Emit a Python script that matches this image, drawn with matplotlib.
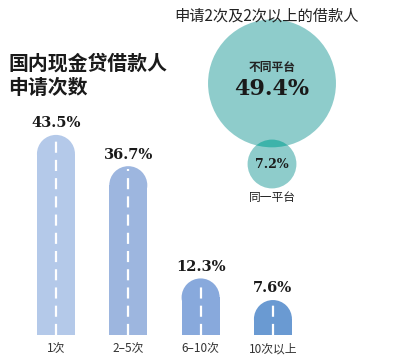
import matplotlib
matplotlib.use("Agg")
import matplotlib.pyplot as plt
from matplotlib.patches import Rectangle, Ellipse, Circle
import numpy as np

plt.rcParams['font.family'] = ['Noto Sans CJK SC', 'DejaVu Sans']

# ---- data ----
categories = ["1次", "2–5次", "6–10次", "10次以上"]
shares = [43.5, 36.7, 12.3, 7.6]
value_labels = ["43.5%", "36.7%", "12.3%", "7.6%"]
bar_colors = ["#b4c9e9", "#9db6df", "#88a9dc", "#6a9ad2"]

circle_labels = ["不同平台", "同一平台"]
circle_values = [49.4, 7.2]
circle_value_labels = ["49.4%", "7.2%"]

title = "国内现金贷借款人\n申请次数"
subtitle = "申请2次及2次以上的借款人"

W, H = 400, 355
fig = plt.figure(figsize=(W / 100, H / 100), dpi=100)
fig.patch.set_facecolor("white")

def px_box(left, top, right, bottom):
    return [left / W, 1 - bottom / H, (right - left) / W, (bottom - top) / H]

# ---- bar axes ----
ax = fig.add_axes(px_box(19.8, 105, 309.1, 335))
ax.set_xlim(-0.5, 3.5)
ax.set_ylim(0, 50)
ax.axis("off")

px_per_x = 289.3 / 4.0
px_per_y = 230 / 50.0
bw = 38 / px_per_x
cap_h = 2 * (19 / px_per_y)
serif = ['DejaVu Serif']

for i, (v, c) in enumerate(zip(shares, bar_colors)):
    body = v - cap_h / 2
    ax.add_patch(Rectangle((i - bw / 2, 0), bw, body, facecolor=c, edgecolor="none"))
    ax.add_patch(Ellipse((i, body), bw, cap_h, facecolor=c, edgecolor="none"))
    ax.plot([i, i], [0, v - 0.6], color="white", lw=1.6,
            dashes=(5, 3.2), solid_capstyle="butt")
    ax.text(i, v + 1.0, value_labels[i], ha="center", va="bottom",
            fontsize=10.5, fontweight="bold", family=serif, color="#1a1a1a")
    ax.text(i, -1.6, categories[i], ha="center", va="top",
            fontsize=8.5, color="#333333")

# ---- circle axes ----
k = 9.1  # px per unit
cax = fig.add_axes(px_box(200, 15, 345, 205))
cax.set_xlim(-72 / k, 73 / k)
cax.set_ylim(-(205 - 82) / k, (82 - 15) / k)
cax.axis("off")

r1 = np.sqrt(circle_values[0])
r2 = np.sqrt(circle_values[1])
overlap = 0.7
y2 = -(r1 + r2 - overlap)
teal = "#8ecccb"
dark = "#3db3aa"
big = Circle((0, -0.15), r1, facecolor=teal, edgecolor="none")
small = Circle((0, y2), r2, facecolor=teal, edgecolor="none")
cax.add_patch(big)
cax.add_patch(small)
inter = Circle((0, y2), r2, facecolor=dark, edgecolor="none")
cax.add_patch(inter)
inter.set_clip_path(big)

cax.text(0, 1.65, circle_labels[0], ha="center", va="center",
         fontsize=8.5, fontweight="bold", color="#222222")
cax.text(0, -0.8, circle_value_labels[0], ha="center", va="center",
         fontsize=16, fontweight="bold", family=serif, color="#1a1a1a")
cax.text(0, y2, circle_value_labels[1], ha="center", va="center",
         fontsize=9, fontweight="bold", family=serif, color="#1a1a1a")
cax.text(0, y2 - r2 - 0.25, circle_labels[1], ha="center", va="top",
         fontsize=8.5, fontweight="medium", color="#222222")

# ---- titles ----
fig.text(8 / W, 1 - 53 / H, title, ha="left", va="top", fontsize=14.3,
         fontweight="bold", color="#1a1a1a", linespacing=1.15)
fig.text(267 / W, 1 - 16 / H, subtitle, ha="center", va="center",
         fontsize=11, fontweight="medium", color="#222222")

fig.savefig("out.png", dpi=100, facecolor="white")
